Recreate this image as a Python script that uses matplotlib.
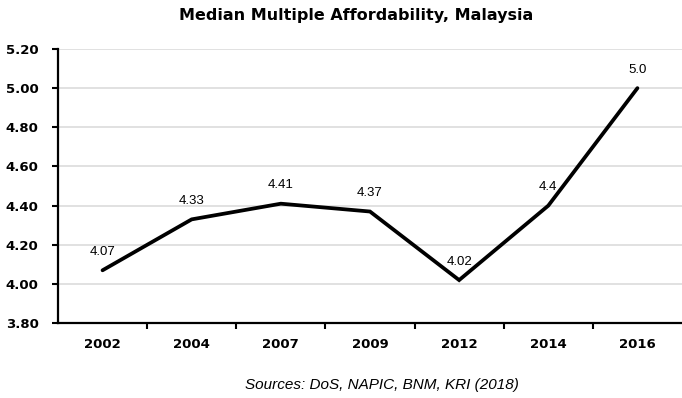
import matplotlib.pyplot as plt

years = ['2002', '2004', '2007', '2009', '2012', '2014', '2016']
values = [4.07, 4.33, 4.41, 4.37, 4.02, 4.4, 5.0]
labels = ['4.07', '4.33', '4.41', '4.37', '4.02', '4.4', '5.0']
yticks = [3.80, 4.00, 4.20, 4.40, 4.60, 4.80, 5.00, 5.20]

fig = plt.figure(figsize=(6.82, 3.98), dpi=100)
ax = fig.add_axes([0.085, 0.188, 0.915, 0.689])

x = list(range(len(years)))
ax.plot(x, values, color='black', linewidth=2.7, solid_capstyle='round', solid_joinstyle='miter', zorder=3)
for xi, v, lab in zip(x, values, labels):
    ax.annotate(lab, (xi, v), xytext=(0, 9), textcoords='offset points',
                ha='center', va='bottom', fontsize=9.5, family='Liberation Sans')

ax.set_xlim(-0.5, len(years) - 0.5)
ax.set_ylim(3.8, 5.2)
ax.set_yticks(yticks)
ax.set_yticklabels([f'{t:.2f}' for t in yticks], fontweight='bold', fontsize=9.5)
ax.set_xticks(x)
ax.set_xticklabels(years, fontweight='bold', fontsize=9.5)
ax.set_xticks([i + 0.5 for i in x[:-1]], minor=True)
ax.tick_params(axis='x', which='major', length=0, pad=11)
ax.tick_params(axis='x', which='minor', length=4, width=1.5, direction='out')
ax.tick_params(axis='y', length=4, width=1.5, direction='out', pad=10)

ax.grid(axis='y', color='#dcdcdc', linewidth=1.2)
ax.set_axisbelow(True)
for s in ['top', 'right']:
    ax.spines[s].set_visible(False)
for s in ['left', 'bottom']:
    ax.spines[s].set_linewidth(1.6)

fig.text(0.522, 0.962, 'Median Multiple Affordability, Malaysia', ha='center', va='center',
         fontweight='bold', fontsize=11.5)
fig.text(0.56, 0.032, 'Sources: DoS, NAPIC, BNM, KRI (2018)', ha='center', va='center',
         fontstyle='italic', fontsize=11, family='Liberation Sans')

fig.savefig('out.png', dpi=100)
